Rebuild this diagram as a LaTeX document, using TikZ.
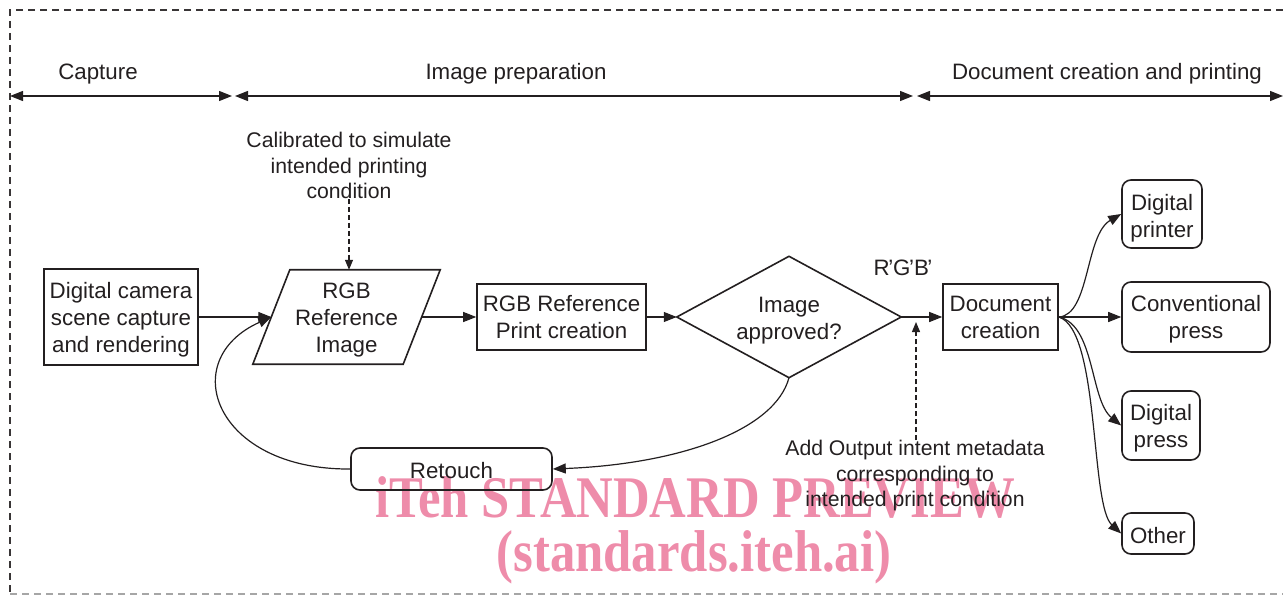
\documentclass[tikz,border=0pt]{standalone}
\usepackage{fontspec}
\usepackage{graphicx}
\setmainfont{Liberation Sans}
\newfontfamily\wmfont{Liberation Serif}
\usetikzlibrary{arrows.meta,calc}
\definecolor{ink}{RGB}{35,31,32}
\definecolor{wm}{RGB}{238,140,170}
\begin{document}
\begin{tikzpicture}[x=1pt,y=-1pt,
  every node/.style={font=\fontsize{22.3}{27}\selectfont, text=ink, inner sep=0pt},
  box/.style={draw=ink, line width=1.6pt},
  rbox/.style={box, rounded corners=9pt},
  txt/.style={align=center},
  note/.style={align=center, font=\fontsize{21.2}{25.5}\selectfont},
  arr/.style={draw=ink, line width=1.2pt, -{Triangle[length=13pt,width=10pt]}},
  darr/.style={draw=ink, line width=1.2pt, dash pattern=on 5pt off 3pt, -{Triangle[length=10pt,width=8pt]}},
  spanarr/.style={draw=ink, line width=1.2pt, {Triangle[length=13pt,width=10pt]}-{Triangle[length=13pt,width=10pt]}},
  wmtext/.style={text=wm, font=\wmfont\bfseries\fontsize{59}{59}\selectfont, anchor=base},
  border/.style={line width=1.3pt, dash pattern=on 7pt off 5pt},
]
\useasboundingbox (0,0) rectangle (1283,596);

% watermark (behind)
\node[wmtext] (wm1) at (695,517) {\scalebox{0.86}[1]{iTeh STANDARD PREVIEW}};
\node[wmtext] (wm2) at (694,571) {\scalebox{0.86}[1]{(standards.iteh.ai)}};

% frame
\draw[border, ink!90] (1283,10) -- (10,10) -- (10,594);
\draw[border, gray!70] (10,594) -- (1283,594);

% phase spans
\coordinate (s0) at (10,96);
\coordinate (s1) at (232,96);
\coordinate (s2) at (235,96);
\coordinate (s3) at (913,96);
\coordinate (s4) at (917,96);
\coordinate (s5) at (1283,96);
\draw[spanarr] (s0) -- (s1);
\draw[spanarr] (s2) -- (s3);
\draw[spanarr] (s4) -- (s5);
\node[anchor=base] (cap) at (98,80) {Capture};
\node[anchor=base] (prep) at (516,80) {Image preparation};
\node[anchor=base] (docp) at (1107,80) {Document creation and printing};

% main shapes
\node[box, minimum width=154pt, minimum height=96pt] (cam) at (121,317) {};
\node[txt] (camt) at ($(cam.center)+(0,3)$) {Digital camera\\scene capture\\and rendering};
\node[minimum width=150pt, minimum height=94pt] (rgb) at (346.5,317) {};
\draw[ink, line width=1.6pt] ($(rgb.north west)+(18.5,0)$) -- ($(rgb.north east)+(18.5,0)$) -- ($(rgb.south east)+(-18.5,0)$) -- ($(rgb.south west)+(-18.5,0)$) -- cycle;
\node[txt] (rgbt) at ($(rgb.center)+(0,3)$) {RGB\\Reference\\Image};
\node[box, minimum width=169pt, minimum height=66pt] (print) at (561.5,317) {};
\node[txt] (printt) at (print.center) {RGB Reference\\Print creation};
\node[minimum width=224pt, minimum height=121pt] (dia) at (789,317) {};
\draw[ink, line width=1.6pt] (dia.west) -- (dia.north) -- (dia.east) -- (dia.south) -- cycle;
\node[txt] (diat) at ($(dia.center)+(0,4)$) {Image\\approved?};
\node[box, minimum width=115pt, minimum height=66pt] (doc) at (1000.5,317) {};
\node[txt] (doct) at (doc.center) {Document\\creation};
\node[rbox, minimum width=80pt, minimum height=68pt] (dprinter) at (1162,214) {};
\node[txt] (dprintert) at ($(dprinter.center)+(0,4)$) {Digital\\printer};
\node[rbox, minimum width=148pt, minimum height=70pt] (conv) at (1196,317) {};
\node[txt] (convt) at ($(conv.center)+(0,2)$) {Conventional\\press};
\node[rbox, minimum width=78pt, minimum height=69pt] (dpress) at (1161,425.5) {};
\node[txt] (dpresst) at ($(dpress.center)+(0,3)$) {Digital\\press};
\node[rbox, minimum width=72pt, minimum height=41pt] (other) at (1158,533.5) {};
\node[txt] (othert) at ($(other.center)+(0,2)$) {Other};
\node[rbox, minimum width=201pt, minimum height=42pt] (retouch) at (451.5,469) {};
\node[txt] (retoucht) at ($(retouch.center)+(0,2)$) {Retouch};

% annotations
\node[note] (calib) at (349,165.5) {Calibrated to simulate\\intended printing\\condition};
\node (rgbp) at (903,268) {R\kern-1.5pt’G\kern-1.5pt’B\kern-1.5pt’};
\node[note] (meta) at (915,476) {Add Output intent metadata\\corresponding to\\intended print condition};
\coordinate (mt) at (916,322);

% connectors
\draw[darr] (calib.south) -- (calib.south |- rgb.north);
\draw[darr] (meta.north -| mt) -- (mt);
\draw[arr] (cam.east) -- (rgb.west);
\draw[arr] (rgb.east) -- (print.west);
\draw[arr] (print.east) -- (dia.west);
\draw[arr] (dia.east) -- (doc.west);
\draw[arr] (doc.east) -- (conv.west);
\draw[arr] (doc.east) .. controls (1090,315) and (1085,235) .. (dprinter.west);
\draw[arr] (doc.east) .. controls (1095,325) and (1090,400) .. (dpress.west);
\draw[arr] (doc.east) .. controls (1100,330) and (1090,505) .. (other.west);
\draw[arr] (dia.south) .. controls (775,430) and (680,464) .. (retouch.east);
\draw[arr] (retouch.west) .. controls (215,470) and (175,360) .. (rgb.west);
\end{tikzpicture}
\end{document}
